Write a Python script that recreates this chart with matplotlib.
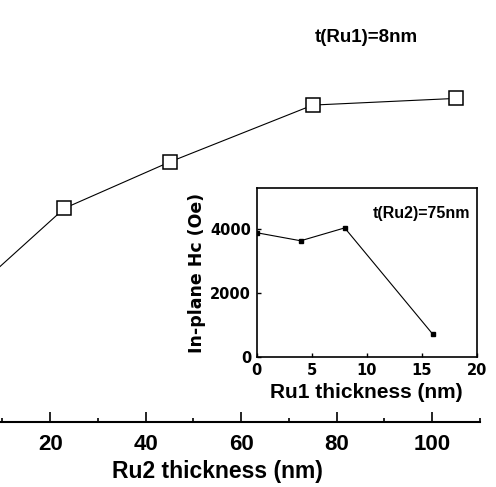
import matplotlib
matplotlib.use("Agg")
import matplotlib.pyplot as plt
from matplotlib.ticker import MultipleLocator

# main curve: Hc vs Ru2 thickness, t(Ru1)=8nm (first point is cut off on the left)
ru2_thickness = [5, 23, 45, 75, 105]
hc_ru2 = [2030, 3190, 3880, 4730, 4830]

# inset: Hc vs Ru1 thickness, t(Ru2)=75nm
ru1_thickness = [0, 4, 8, 16]
hc_ru1 = [3870, 3620, 4020, 720]

main_ticks = [20, 40, 60, 80, 100]
inset_xticks = [0, 5, 10, 15, 20]
inset_yticks = [0, 2000, 4000]

W, H = 496, 487
fig = plt.figure(figsize=(W / 100, H / 100), dpi=100)

ax = fig.add_axes([-45.4 / W, 1 - 422 / H, (480 + 45.4) / W, (422 - 20) / H])
ax.plot(ru2_thickness, hc_ru2, "-", color="black", lw=0.8,
        marker="s", ms=10, mfc="white", mec="black", mew=1.1)
ax.set_xlim(0, 110)
ax.set_ylim(0, 6000)
for s in ["top", "right", "left"]:
    ax.spines[s].set_visible(False)
ax.spines["bottom"].set_linewidth(1.5)
ax.set_xticks(main_ticks)
ax.xaxis.set_minor_locator(MultipleLocator(10))
ax.set_yticks([])
ax.tick_params(axis="x", which="major", direction="in", length=7, width=1.2, pad=9)
ax.tick_params(axis="x", which="minor", direction="in", length=3, width=1.2)
for lab in ax.get_xticklabels():
    lab.set_fontfamily("Liberation Sans")
    lab.set_fontweight("bold")
    lab.set_fontsize(16)
ax.set_xlabel("Ru2 thickness (nm)", fontfamily="Liberation Sans", fontweight="bold",
              fontsize=16.5, labelpad=3)
ax.text(366 / W, 1 - 38 / H, "t(Ru1)=8nm", transform=fig.transFigure, ha="center",
        va="center", fontfamily="Liberation Sans", fontweight="bold", fontsize=13.5)

ins = fig.add_axes([256.7 / W, 1 - 357.3 / H, 220 / W, 169 / H])
ins.plot(ru1_thickness, hc_ru1, "-", color="black", lw=0.8,
         marker="s", ms=3.5, mfc="black", mec="black")
ins.set_xlim(0, 20)
ins.set_ylim(0, 5250)
ins.set_xticks(inset_xticks)
ins.set_yticks(inset_yticks)
ins.tick_params(direction="in", length=3, width=1, pad=4)
for sp in ins.spines.values():
    sp.set_linewidth(1.2)
for lab in ins.get_xticklabels() + ins.get_yticklabels():
    lab.set_fontfamily("DejaVu Sans")
    lab.set_fontweight("bold")
    lab.set_fontsize(10.5)
ins.set_xlabel("Ru1 thickness (nm)", fontfamily="Liberation Sans", fontweight="bold",
               fontsize=15, labelpad=4)
ins.set_ylabel("In-plane Hc (Oe)", fontfamily="DejaVu Sans", fontweight="bold",
               fontsize=12.5, labelpad=3)
ins.text(0.97, 0.85, "t(Ru2)=75nm", transform=ins.transAxes, ha="right", va="center",
         fontfamily="Liberation Sans", fontweight="bold", fontsize=11.5)

fig.savefig("out.png", dpi=100)
